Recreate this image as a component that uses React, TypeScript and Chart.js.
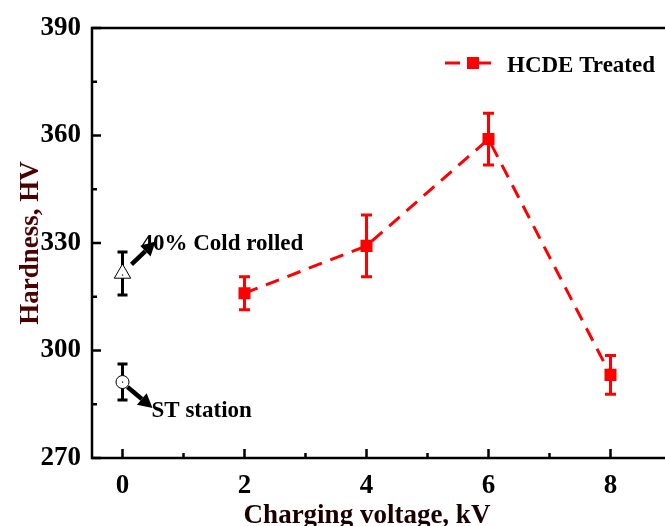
import React, { useEffect, useRef } from "react";
import { Chart, registerables } from "chart.js";
Chart.register(...registerables);

// ---- data ----
const hcdeVoltage = [2, 4, 6, 8];
const hcdeHardness = [316, 329.2, 359, 293.2];
const hcdeError = [4.6, 8.6, 7.2, 5.4];

const coldVoltage = [0];
const coldHardness = [321.5];
const coldError = [6];

const stVoltage = [0];
const stHardness = [291.2];
const stError = [5];

const xTicks = [0, 2, 4, 6, 8];
const xMinorTicks = [1, 3, 5, 7];
const yTicks = [270, 300, 330, 360, 390];
const yMinorTicks = [285, 315, 345, 375];

const legendLabel = "HCDE Treated";
const coldLabel = "40% Cold rolled";
const stLabel = "ST station";
const xTitle = "Charging voltage, kV";
const yTitle = "Hardness, HV";

const FONT = '"Liberation Serif", "Times New Roman", serif';

function drawArrow(ctx: CanvasRenderingContext2D, x1: number, y1: number, x2: number, y2: number) {
  const ang = Math.atan2(y2 - y1, x2 - x1);
  const headLen = 14;
  const headW = 7.5;
  const bx = x2 - headLen * Math.cos(ang);
  const by = y2 - headLen * Math.sin(ang);
  ctx.save();
  ctx.strokeStyle = "#000";
  ctx.fillStyle = "#000";
  ctx.lineWidth = 4.5;
  ctx.beginPath();
  ctx.moveTo(x1, y1);
  ctx.lineTo(bx, by);
  ctx.stroke();
  ctx.beginPath();
  ctx.moveTo(x2, y2);
  ctx.lineTo(bx + headW * Math.sin(ang), by - headW * Math.cos(ang));
  ctx.lineTo(bx - headW * Math.sin(ang), by + headW * Math.cos(ang));
  ctx.closePath();
  ctx.fill();
  ctx.restore();
}

const customPlugin = {
  id: "custom",
  beforeDatasetsDraw(chart: any) {
    const ctx: CanvasRenderingContext2D = chart.ctx;
    const xs = chart.scales.x;
    const ys = chart.scales.y;
    chart.data.datasets.forEach((ds: any) => {
      const errs: number[] = ds.errors || [];
      ctx.save();
      ctx.strokeStyle = ds.errorColor;
      ctx.lineWidth = 3;
      ds.data.forEach((p: any, i: number) => {
        const e = errs[i];
        if (e == null) return;
        const px = xs.getPixelForValue(p.x);
        const top = ys.getPixelForValue(p.y + e);
        const bot = ys.getPixelForValue(p.y - e);
        const hw = ds.capHalf;
        ctx.beginPath();
        ctx.moveTo(px, top);
        ctx.lineTo(px, bot);
        ctx.moveTo(px - hw, top);
        ctx.lineTo(px + hw, top);
        ctx.moveTo(px - hw, bot);
        ctx.lineTo(px + hw, bot);
        ctx.stroke();
      });
      ctx.restore();
    });
  },
  afterDatasetsDraw(chart: any) {
    // small centre dots on the hollow markers
    const ctx: CanvasRenderingContext2D = chart.ctx;
    [1, 2].forEach((di) => {
      const meta = chart.getDatasetMeta(di);
      meta.data.forEach((pt: any) => {
        ctx.fillStyle = "#000";
        ctx.fillRect(pt.x - 0.5, pt.y + (di === 1 ? 1 : -0.5), 1.2, 1.2);
      });
    });
  },
  afterDraw(chart: any) {
    const ctx: CanvasRenderingContext2D = chart.ctx;
    const { left, right, top, bottom } = chart.chartArea;
    const xs = chart.scales.x;
    const ys = chart.scales.y;
    ctx.save();
    // frame
    ctx.strokeStyle = "#000";
    ctx.lineWidth = 2.5;
    ctx.beginPath();
    ctx.rect(left, top, right - left, bottom - top);
    ctx.stroke();
    // inward ticks
    ctx.lineWidth = 2.5;
    ctx.beginPath();
    xTicks.forEach((v) => {
      const p = xs.getPixelForValue(v);
      ctx.moveTo(p, bottom);
      ctx.lineTo(p, bottom - 9);
    });
    xMinorTicks.forEach((v) => {
      const p = xs.getPixelForValue(v);
      ctx.moveTo(p, bottom);
      ctx.lineTo(p, bottom - 5);
    });
    yTicks.forEach((v) => {
      const p = ys.getPixelForValue(v);
      ctx.moveTo(left, p);
      ctx.lineTo(left + 9, p);
    });
    yMinorTicks.forEach((v) => {
      const p = ys.getPixelForValue(v);
      ctx.moveTo(left, p);
      ctx.lineTo(left + 5, p);
    });
    ctx.stroke();

    // legend
    const ly = 63;
    ctx.strokeStyle = "#ff0000";
    ctx.lineWidth = 3;
    ctx.beginPath();
    ctx.moveTo(445, ly);
    ctx.lineTo(460, ly);
    ctx.moveTo(479, ly);
    ctx.lineTo(491, ly);
    ctx.stroke();
    ctx.fillStyle = "#ff0000";
    ctx.fillRect(467, ly - 6, 12, 12);
    ctx.fillStyle = "#000";
    ctx.font = `bold 23px ${FONT}`;
    ctx.textBaseline = "alphabetic";
    ctx.textAlign = "left";
    ctx.fillText(legendLabel, 507, 72);

    // annotations
    const cx = xs.getPixelForValue(coldVoltage[0]);
    const cy = ys.getPixelForValue(coldHardness[0]);
    drawArrow(ctx, cx + 9, cy - 9, cx + 33, cy - 32);
    ctx.fillText(coldLabel, cx + 19, cy - 23);
    const sx = xs.getPixelForValue(stVoltage[0]);
    const sy = ys.getPixelForValue(stHardness[0]);
    drawArrow(ctx, sx + 5, sy + 5, sx + 30, sy + 26);
    ctx.fillText(stLabel, sx + 29, sy + 35);

    // axis titles
    ctx.font = `bold 27px ${FONT}`;
    ctx.fillStyle = "#1a0000";
    ctx.textAlign = "center";
    ctx.fillText(xTitle, 367, 523);
    ctx.save();
    ctx.translate(38, (top + bottom) / 2);
    ctx.rotate(-Math.PI / 2);
    ctx.fillStyle = "#4d0000";
    ctx.fillText(yTitle, 0, 0);
    ctx.restore();
    ctx.restore();
  },
};

export default function App() {
  const ref = useRef<HTMLCanvasElement>(null);
  useEffect(() => {
    if (!ref.current) return;
    const chart = new Chart(ref.current, {
      type: "scatter",
      data: {
        datasets: [
          {
            label: legendLabel,
            data: hcdeVoltage.map((x, i) => ({ x, y: hcdeHardness[i] })),
            showLine: true,
            borderColor: "#ff0000",
            borderWidth: 3,
            borderDash: [14, 9],
            pointStyle: "rect",
            pointRadius: 8.5,
            pointBackgroundColor: "#ff0000",
            pointBorderColor: "#ff0000",
            pointBorderWidth: 0,
            errors: hcdeError,
            errorColor: "#ff0000",
            capHalf: 5.5,
          } as any,
          {
            label: coldLabel,
            data: coldVoltage.map((x, i) => ({ x, y: coldHardness[i] })),
            pointStyle: "triangle",
            pointRadius: 9.5,
            pointBackgroundColor: "#ffffff",
            pointBorderColor: "#000000",
            pointBorderWidth: 1,
            errors: coldError,
            errorColor: "#000000",
            capHalf: 5,
          } as any,
          {
            label: stLabel,
            data: stVoltage.map((x, i) => ({ x, y: stHardness[i] })),
            pointStyle: "circle",
            pointRadius: 6.5,
            pointBackgroundColor: "#ffffff",
            pointBorderColor: "#000000",
            pointBorderWidth: 1,
            errors: stError,
            errorColor: "#000000",
            capHalf: 5,
          } as any,
        ],
      },
      options: {
        responsive: false,
        animation: false,
        devicePixelRatio: 1,
        layout: { padding: { left: 0, top: 28, right: 28.5, bottom: 0 } },
        plugins: { legend: { display: false }, tooltip: { enabled: false } },
        scales: {
          x: {
            type: "linear",
            min: -0.5,
            max: 9,
            afterBuildTicks: (s: any) => {
              s.ticks = xTicks.map((v) => ({ value: v }));
            },
            afterFit: (s: any) => {
              s.height = 68;
            },
            grid: { display: false, drawTicks: false },
            border: { display: false },
            ticks: {
              autoSkip: false,
              maxRotation: 0,
              padding: 12,
              color: "#000",
              font: { family: FONT, size: 27, weight: "bold" },
            },
          },
          y: {
            type: "linear",
            min: 270,
            max: 390,
            afterBuildTicks: (s: any) => {
              s.ticks = yTicks.map((v) => ({ value: v }));
            },
            afterFit: (s: any) => {
              s.width = 92;
            },
            grid: { display: false, drawTicks: false },
            border: { display: false },
            ticks: {
              autoSkip: false,
              padding: 11,
              color: "#000",
              font: { family: FONT, size: 27, weight: "bold" },
            },
          },
        },
      } as any,
      plugins: [customPlugin],
    });
    return () => chart.destroy();
  }, []);
  return (
    <div
      style={{
        position: "fixed",
        left: 0,
        top: 0,
        width: 665,
        height: 526,
        overflow: "hidden",
        background: "#fff",
      }}
    >
      <canvas ref={ref} width={700} height={526} style={{ width: 700, height: 526, display: "block" }} />
    </div>
  );
}
